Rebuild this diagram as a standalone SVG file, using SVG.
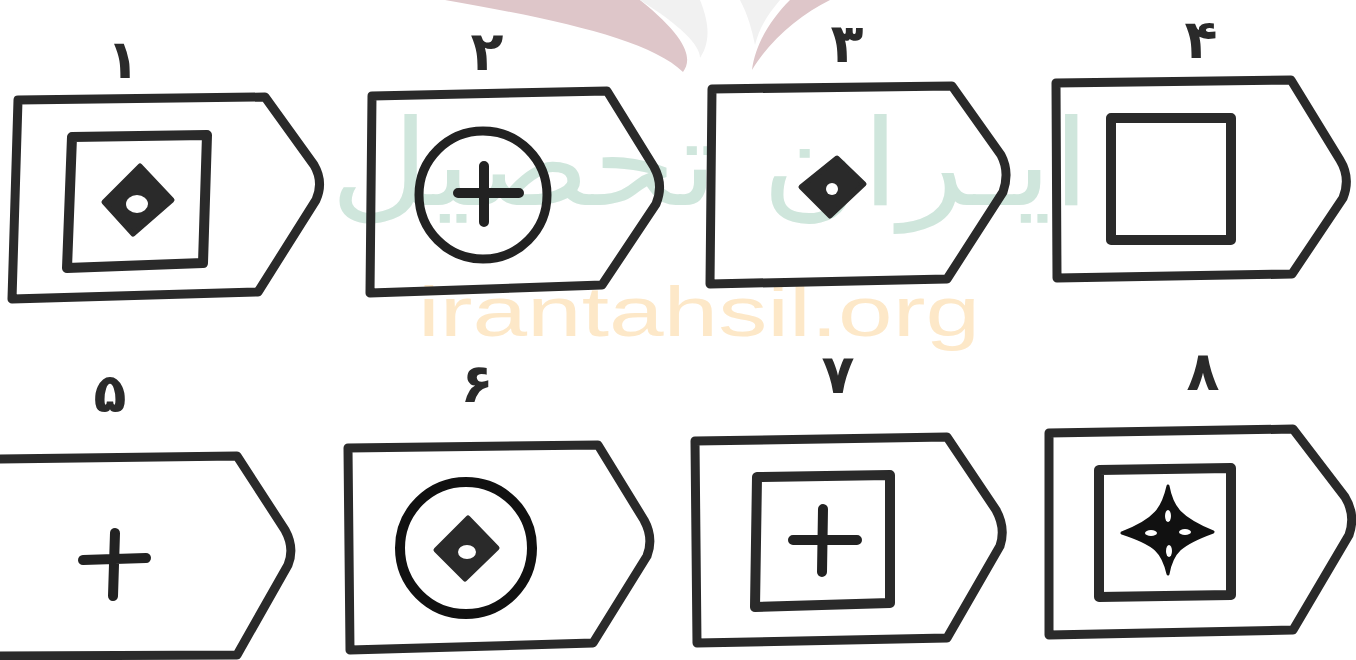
<svg xmlns="http://www.w3.org/2000/svg" width="1356" height="660" viewBox="0 0 1356 660">
<style>
.o{fill:none;stroke:#2a2a2a;stroke-width:9;stroke-linejoin:round;stroke-linecap:round}
.s{fill:none;stroke:#2a2a2a;stroke-width:10;stroke-linejoin:round;stroke-linecap:round}
.p{fill:none;stroke:#222;stroke-width:10;stroke-linecap:round}
.d{fill:#2a2a2a;stroke:#2a2a2a;stroke-width:5;stroke-linejoin:round}
.h{fill:#fff}
.lb{font-family:"DejaVu Sans",sans-serif;font-size:54px;font-weight:bold;fill:#2a2a2a;text-anchor:middle}
</style>
<rect width="1356" height="660" fill="#fff"/>
<g id="watermark">
<path d="M445,0 C560,20 650,40 683,72 C692,60 690,40 640,0 Z" fill="#dec6c9"/>
<path d="M640,0 C680,25 700,45 700,58 C712,40 708,20 700,0 Z" fill="#f1f1f1"/>
<path d="M752,70 C770,40 800,15 830,0 L790,0 C770,20 755,45 752,70 Z" fill="#dec6c9"/>
<path d="M755,45 C760,25 770,12 780,0 L740,0 C748,15 752,30 755,45 Z" fill="#f1f1f1"/>
<text x="710" y="205" text-anchor="middle" font-family="DejaVu Sans,sans-serif" font-size="120" fill="#cfe6dc" textLength="760" lengthAdjust="spacingAndGlyphs" direction="rtl">ایـران تحصیل</text>
<text x="418" y="336" font-family="Liberation Sans,sans-serif" font-size="70" fill="#fde8c8" textLength="562" lengthAdjust="spacingAndGlyphs">irantahsil.org</text>
</g>
<g id="node1">
<path class="o" d="M18,100 L265,97 L314,165 Q324,182 316,200 L258,292 L12,299 Z"/>
<path class="s" d="M72,137 L207,135 L203,263 L67,268 Z"/>
<path class="d" d="M140,166 L172,200 L133,234 L104,202 Z"/>
<ellipse class="h" cx="137" cy="204" rx="11" ry="9"/>
<text class="lb" x="123" y="78">۱</text>
</g>
<g id="node2">
<path class="o" d="M372,96 L607,91 L654,167 Q664,185 656,204 L602,285 L370,293 Z"/>
<circle cx="483" cy="195" r="64" fill="none" stroke="#222" stroke-width="9"/>
<path class="p" d="M458,193 L519,193 M484,166 L484,222"/>
<text class="lb" x="487" y="70">۲</text>
</g>
<g id="node3">
<path class="o" d="M712,89 L952,86 L1001,155 Q1010,172 1003,192 L947,279 L710,284 Z"/>
<path class="d" d="M837,158 L864,184 L830,216 L801,187 Z"/>
<circle class="h" cx="832" cy="189" r="6"/>
<text class="lb" x="847" y="62">۳</text>
</g>
<g id="node4">
<path class="o" d="M1056,83 L1291,80 L1340,160 Q1351,178 1343,198 L1292,274 L1057,278 Z"/>
<path class="s" d="M1111,118 L1231,118 L1231,240 L1111,240 Z"/>
<text class="lb" x="1201" y="58">۴</text>
</g>
<g id="node5">
<path class="o" d="M-10,459 L237,456 L285,530 Q295,548 288,565 L237,655 L-10,656"/>
<path class="p" d="M83,560 L146,558 M115,533 L113,596"/>
<text class="lb" x="110" y="412">۵</text>
</g>
<g id="node6">
<path class="o" d="M348,448 L598,445 L644,520 Q654,538 647,556 L593,643 L350,650 Z"/>
<circle cx="466" cy="548" r="66" fill="none" stroke="#111" stroke-width="10"/>
<path class="d" d="M468,518 L497,548 L465,579 L436,550 Z"/>
<ellipse class="h" cx="467" cy="552" rx="9" ry="7"/>
<text class="lb" x="477" y="402">۶</text>
</g>
<g id="node7">
<path class="o" d="M695,441 L947,437 L996,510 Q1006,528 1000,546 L947,638 L697,643 Z"/>
<path class="s" d="M757,477 L890,475 L890,603 L755,607 Z"/>
<path class="p" d="M793,540 L857,540 M823,509 L822,572"/>
<text class="lb" x="838" y="393">۷</text>
</g>
<g id="node8">
<path class="o" d="M1049,433 L1293,429 L1345,497 Q1356,515 1349,535 L1293,630 L1049,635 Z"/>
<path class="s" d="M1099,470 L1231,468 L1231,595 L1099,597 Z"/>
<path fill="#111" stroke="#111" stroke-width="3" stroke-linejoin="round" d="M1168,486 C1172,508 1180,518 1213,532 C1180,544 1172,552 1168,574 C1163,552 1156,544 1122,533 C1156,520 1163,508 1168,486 Z"/>
<ellipse class="h" cx="1168" cy="516" rx="3" ry="6"/>
<ellipse class="h" cx="1185" cy="532" rx="6" ry="3"/>
<ellipse class="h" cx="1169" cy="551" rx="3" ry="6"/>
<ellipse class="h" cx="1151" cy="533" rx="6" ry="3"/>
<text class="lb" x="1203" y="390">۸</text>
</g>
<g id="connectors"></g>
</svg>
